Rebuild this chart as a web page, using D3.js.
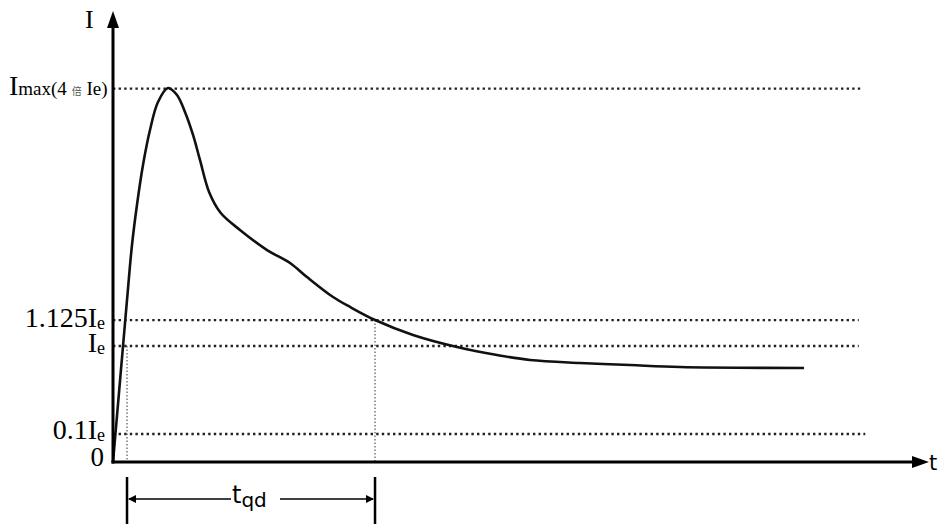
<!DOCTYPE html>
<html><head><meta charset="utf-8">
<script src="https://cdn.jsdelivr.net/npm/d3@7/dist/d3.min.js"></script>
<style>html,body{margin:0;padding:0;background:#fff;}svg{display:block;}</style>
</head><body><div id="chart"></div>
<script>
// Current curve: time (arbitrary units) and current (arbitrary units)
const curveT = [0, 0.86, 1.72, 2.33, 2.94, 3.68, 4.54, 5.52, 6.75, 7.85, 8.83, 9.82, 10.67, 11.8, 13.2, 15.58, 18.9, 21.72, 23.8, 27.0, 29.08, 32.15, 36.81, 42.21, 47.12, 51.17, 57.3, 63.44, 69.57, 84.79];
const curveI = [0, 0.868, 1.736, 2.325, 2.754, 3.182, 3.557, 3.857, 4.007, 3.932, 3.75, 3.504, 3.236, 2.89, 2.67, 2.486, 2.271, 2.132, 1.982, 1.768, 1.661, 1.521, 1.361, 1.232, 1.146, 1.093, 1.061, 1.039, 1.018, 1.007];
// Reference levels (horizontal dotted guides)
const levelNames = ["Imax", "1.125Ie", "Ie", "0.1Ie"];
const levelValues = [4.0, 1.52, 1.243, 0.30];
const levelEnds = [91.7, 91.5, 91.5, 92.3];
// Vertical markers (start and end of t_qd)
const markerT = [1.72, 32.15];
const markerI = [1.243, 1.521];

const W = 941, H = 526;
const svg = d3.select("#chart").append("svg").attr("width", W).attr("height", H);
const x = d3.scaleLinear().domain([0, 100]).range([113, 928]);
const y = d3.scaleLinear().domain([0, 4.8]).range([462, 14]);
const serif = "'Liberation Serif','Times New Roman',serif";
const sans = "'DejaVu Sans','Verdana',sans-serif";

// horizontal dotted guides
levelValues.forEach((v, i) => {
  svg.append("line")
    .attr("x1", x(0)).attr("x2", x(levelEnds[i]))
    .attr("y1", y(v)).attr("y2", y(v))
    .attr("stroke", "#222").attr("stroke-width", 2.4)
    .attr("stroke-dasharray", "2.4,3.2");
});
// vertical dotted markers
markerT.forEach((t, i) => {
  svg.append("line")
    .attr("x1", x(t)).attr("x2", x(t))
    .attr("y1", y(markerI[i])).attr("y2", y(0))
    .attr("stroke", "#333").attr("stroke-width", 1)
    .attr("stroke-dasharray", "1.5,2");
});

// curve
const pts = curveT.map((t, i) => [t, curveI[i]]);
const line = d3.line().x(d => x(d[0])).y(d => y(d[1])).curve(d3.curveCatmullRom.alpha(0.5));
svg.append("path").datum(pts).attr("d", line)
  .attr("fill", "none").attr("stroke", "#111").attr("stroke-width", 2.6);

// axes
svg.append("line").attr("x1", x(0)).attr("x2", x(0)).attr("y1", y(0) + 1.5).attr("y2", 26)
  .attr("stroke", "#000").attr("stroke-width", 3);
svg.append("path").attr("d", `M${x(0)},11 L${x(0) - 6},28 L${x(0) + 6},28 Z`).attr("fill", "#000");
svg.append("line").attr("x1", x(0) - 1.5).attr("x2", 914).attr("y1", y(0)).attr("y2", y(0))
  .attr("stroke", "#000").attr("stroke-width", 3);
svg.append("path").attr("d", `M929,${y(0)} L912,${y(0) - 6} L912,${y(0) + 6} Z`).attr("fill", "#000");

// axis titles
svg.append("text").attr("x", 85).attr("y", 28).attr("font-family", serif).attr("font-size", 26).text("I");
svg.append("text").attr("x", 929).attr("y", 470).attr("font-family", sans).attr("font-size", 21).text("t");

// level labels
function subLabel(main, sub, xr, yb) {
  const t = svg.append("text").attr("x", xr).attr("y", yb).attr("text-anchor", "end")
    .attr("font-family", serif).attr("font-size", 28);
  t.append("tspan").text(main);
  t.append("tspan").attr("font-size", 18).attr("dy", 2).text(sub);
}
subLabel("1.125I", "e", 105, 327);
subLabel("I", "e", 105, 352);
subLabel("0.1I", "e", 105, 439);
svg.append("text").attr("x", 104).attr("y", 466).attr("text-anchor", "end")
  .attr("font-family", serif).attr("font-size", 27).text("0");

// Imax label
const tm = svg.append("text").attr("x", 9).attr("y", 95).attr("font-family", serif).attr("font-size", 28);
tm.append("tspan").text("I");
tm.append("tspan").attr("font-size", 19).text("max(4 ");
tm.append("tspan").attr("font-size", 10).attr("font-family", "'Noto Sans CJK SC',sans-serif").attr("fill", "#555").text("倍");
tm.append("tspan").attr("font-size", 19).text(" Ie)");

// t_qd dimension
const yd = 499;
markerT.forEach(t => {
  svg.append("line").attr("x1", x(t)).attr("x2", x(t)).attr("y1", 477).attr("y2", 524)
    .attr("stroke", "#000").attr("stroke-width", 2.5);
});
svg.append("line").attr("x1", x(markerT[0]) + 2).attr("x2", 231).attr("y1", yd).attr("y2", yd)
  .attr("stroke", "#000").attr("stroke-width", 1.5);
svg.append("line").attr("x1", 280).attr("x2", x(markerT[1]) - 2).attr("y1", yd).attr("y2", yd)
  .attr("stroke", "#000").attr("stroke-width", 1.5);
svg.append("path").attr("d", `M${x(markerT[0]) + 1},${yd} L${x(markerT[0]) + 9},${yd - 4} L${x(markerT[0]) + 9},${yd + 4} Z`).attr("fill", "#000");
svg.append("path").attr("d", `M${x(markerT[1]) - 1},${yd} L${x(markerT[1]) - 9},${yd - 4} L${x(markerT[1]) - 9},${yd + 4} Z`).attr("fill", "#000");
const tq = svg.append("text").attr("x", 232).attr("y", 503).attr("font-family", sans).attr("font-size", 24);
tq.append("tspan").text("t");
tq.append("tspan").attr("font-size", 20).attr("dy", 4).text("qd");
</script>
</body></html>
